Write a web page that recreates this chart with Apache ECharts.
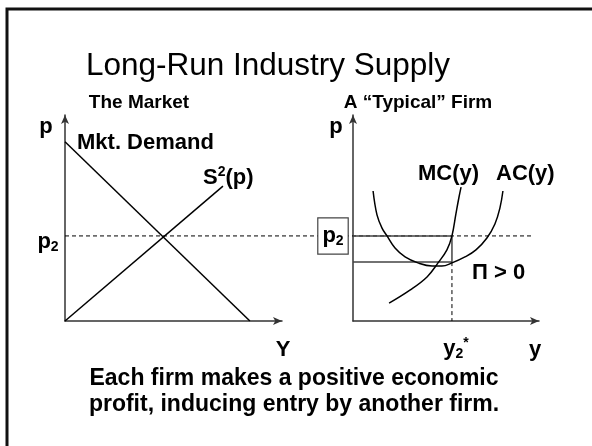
<!DOCTYPE html>
<html>
<head>
<meta charset="utf-8">
<script src="https://cdn.jsdelivr.net/npm/echarts@6/dist/echarts.min.js"></script>
<style>
  html, body { margin: 0; padding: 0; background: #fff; }
  #chart { width: 592px; height: 446px; }
</style>
</head>
<body>
<div id="chart"></div>
<script>
// 左图：市场
var demandPts = [[0, 8.7], [8.52, 0]];
var supplyPts = [[0, 0], [7.28, 6.55]];
var p2 = 4.13;

// 右图：典型厂商
var y2Star = 5.32;
var acAtY2 = 2.86;
var mcPts = [
  [1.94, 0.87], [3.06, 1.5], [3.98, 2.14], [4.57, 2.82], [5.05, 3.45],
  [5.32, 4.13], [5.54, 5.24], [5.7, 6.02], [5.81, 6.5]
];
var acPts = [
  [1.08, 6.31], [1.29, 5.15], [1.56, 4.51], [1.83, 4.13], [2.26, 3.54],
  [2.8, 3.11], [3.49, 2.82], [4.25, 2.67], [4.78, 2.67], [5.32, 2.82],
  [6.02, 3.11], [6.61, 3.45], [7.2, 4.03], [7.63, 4.71], [7.9, 5.49], [8.06, 6.31]
];

var FONT = "'Liberation Sans', Arial, sans-serif";
var dom = document.getElementById("chart");
var myChart = echarts.init(dom, null, { renderer: "canvas" });

function axisCommon(extra) {
  return Object.assign({
    type: "value",
    min: 0,
    max: 10,
    axisLine: {
      show: true,
      symbol: ["none", "arrow"],
      symbolSize: [6, 9],
      lineStyle: { color: "#333", width: 1.5 }
    },
    axisTick: { show: false },
    axisLabel: { show: false },
    splitLine: { show: false }
  }, extra);
}

function hiddenAxis(extra) {
  return Object.assign({
    type: "value",
    show: false,
    min: 0,
    max: 10
  }, extra);
}

function boldText(x, y, text, size, align, rich) {
  return {
    type: "text",
    x: x,
    y: y,
    z: 10,
    style: {
      text: text,
      fill: "#000",
      font: "bold " + size + "px " + FONT,
      align: align || "left",
      verticalAlign: "middle",
      rich: rich
    }
  };
}

var subRich = {
  b: { fontSize: 22, fontWeight: "bold", fontFamily: FONT, lineHeight: 25, fill: "#000" },
  s: { fontSize: 14, fontWeight: "bold", fontFamily: FONT, lineHeight: 14, verticalAlign: "bottom", fill: "#000" },
  t: { fontSize: 14, fontWeight: "bold", fontFamily: FONT, lineHeight: 14, verticalAlign: "top", fill: "#000" }
};

var lineBase = {
  type: "line",
  symbol: "none",
  silent: true,
  animation: false
};

option = {
  animation: false,
  backgroundColor: "#fff",
  grid: [
    { left: 65, top: 115, width: 217, height: 206 },
    { left: 353, top: 115, width: 186, height: 206 },
    // p2 虚线横跨两个图
    { left: 65, top: 115, width: 468, height: 206 }
  ],
  xAxis: [
    axisCommon({ gridIndex: 0 }),
    axisCommon({ gridIndex: 1 }),
    hiddenAxis({ gridIndex: 2, max: 1 })
  ],
  yAxis: [
    axisCommon({ gridIndex: 0 }),
    axisCommon({ gridIndex: 1 }),
    hiddenAxis({ gridIndex: 2 })
  ],
  graphic: [
    {
      type: "polyline",
      shape: { points: [[7, 446], [7, 9], [592, 9]] },
      style: { stroke: "#111", lineWidth: 3, fill: null }
    },
    {
      type: "text",
      x: 268,
      y: 66,
      style: {
        text: "Long-Run Industry Supply",
        font: "31.5px " + FONT,
        fill: "#000",
        align: "center",
        verticalAlign: "middle"
      }
    },
    boldText(139, 103, "The Market", 19, "center"),
    boldText(418, 103, "A \u201cTypical\u201d Firm", 19, "center"),
    boldText(46, 127, "p", 22, "center"),
    boldText(77, 143, "Mkt. Demand", 22, "left"),
    boldText(203, 178, "{b|S}{t|2}{b|(p)}", 22, "left", subRich),
    boldText(48, 242, "{b|p}{s|2}", 22, "center", subRich),
    boldText(283, 350, "Y", 22, "center"),
    boldText(336, 127, "p", 22, "center"),
    boldText(418, 174, "MC(y)", 22, "left"),
    boldText(496, 174, "AC(y)", 22, "left"),
    boldText(472, 273, "\u03a0 > 0", 22, "left"),
    boldText(456, 349, "{b|y}{s|2}{t|*}", 22, "center", subRich),
    boldText(535, 350, "y", 22, "center"),
    {
      type: "text",
      x: 333,
      y: 236,
      z: 10,
      style: {
        text: "{b|p}{s|2}",
        rich: subRich,
        align: "center",
        verticalAlign: "middle",
        backgroundColor: "#fff",
        borderColor: "#444",
        borderWidth: 1.2,
        padding: [5, 4, 5, 4]
      }
    },
    boldText(294, 379, "Each firm makes a positive economic", 23, "center"),
    boldText(294, 405, "profit, inducing entry by another firm.", 23, "center")
  ],
  series: [
    Object.assign({}, lineBase, {
      name: "p2",
      xAxisIndex: 2,
      yAxisIndex: 2,
      z: 1,
      data: [[0, p2], [1, p2]],
      lineStyle: { color: "#000", width: 1, type: [4, 3] }
    }),
    Object.assign({}, lineBase, {
      name: "Mkt. Demand",
      xAxisIndex: 0,
      yAxisIndex: 0,
      data: demandPts,
      lineStyle: { color: "#000", width: 1.5 }
    }),
    Object.assign({}, lineBase, {
      name: "S2(p)",
      xAxisIndex: 0,
      yAxisIndex: 0,
      data: supplyPts,
      lineStyle: { color: "#000", width: 1.5 }
    }),
    Object.assign({}, lineBase, {
      name: "profit",
      xAxisIndex: 1,
      yAxisIndex: 1,
      data: [[0, p2], [y2Star, p2], [y2Star, acAtY2], [0, acAtY2]],
      lineStyle: { color: "#444", width: 1.5 }
    }),
    Object.assign({}, lineBase, {
      name: "y2*",
      xAxisIndex: 1,
      yAxisIndex: 1,
      data: [[y2Star, acAtY2], [y2Star, 0]],
      lineStyle: { color: "#000", width: 1, type: [4, 3] }
    }),
    Object.assign({}, lineBase, {
      name: "MC(y)",
      xAxisIndex: 1,
      yAxisIndex: 1,
      smooth: 0.4,
      data: mcPts,
      lineStyle: { color: "#000", width: 1.5 }
    }),
    Object.assign({}, lineBase, {
      name: "AC(y)",
      xAxisIndex: 1,
      yAxisIndex: 1,
      smooth: 0.4,
      data: acPts,
      lineStyle: { color: "#000", width: 1.5 }
    })
  ]
};
myChart.setOption(option);
</script>
</body>
</html>
